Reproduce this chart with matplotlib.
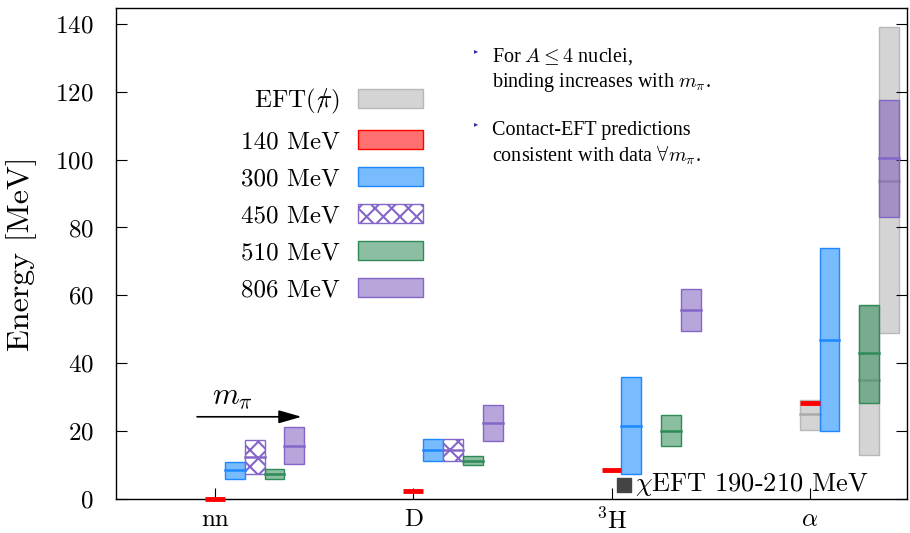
import numpy as np
import matplotlib.pyplot as plt
from matplotlib.patches import Patch

plt.rcParams['font.family'] = 'serif'
plt.rcParams['font.serif'] = ['cmr10']
plt.rcParams['mathtext.fontset'] = 'cm'
plt.rcParams['axes.unicode_minus'] = False
plt.rcParams['axes.formatter.use_mathtext'] = True
plt.rcParams['hatch.linewidth'] = 1.5

# data
nuclei = ['nn', 'D', r'$^3$H', r'$\alpha$']
expt = [0.0, 2.2, 8.5, 28.3]  # 140 MeV (physical point)

# (low, central, high) per nucleus, None where missing
b300 = [(6.0, 8.4, 10.8), (11.1, 14.4, 17.6), (7.4, 21.6, 35.8), (19.9, 46.9, 74.0)]
b450 = [(7.3, 12.3, 17.4), (11.1, 14.4, 17.6), None, None]
b510 = [(5.8, 7.3, 8.7), (9.9, 11.3, 12.7), (15.6, 20.1, 24.7), (28.4, 43.0, 57.2)]
b806 = [(10.2, 15.7, 21.1), (17.2, 22.5, 27.8), (49.4, 55.6, 61.9), (83.0, 100.6, 117.7)]

# pionless EFT for the alpha particle at 140, 510, 806 MeV
eft_slot = [0, 3, 4]
eft_alpha = [(20.4, 25.1, 29.2), (13.0, 34.9, 57.0), (49.0, 93.8, 139.0)]

chi_eft = 4.1  # chiral EFT marker near 3H

w = 0.1
x = np.arange(1, len(nuclei) + 1)

fig = plt.figure(figsize=(9.1, 5.33), dpi=100)
ax = fig.add_axes([0.1275, 0.064, 0.869, 0.921])


def band(xc, lo, mid, hi, fc, ec, hatch=None, z=2):
    ax.bar(xc, hi - lo, bottom=lo, width=w, color=fc, edgecolor=ec,
           linewidth=1.0, hatch=hatch, zorder=z)
    ax.plot([xc - w / 2, xc + w / 2], [mid, mid], color=ec, lw=1.8, zorder=z + 0.5)


gray_fc, gray_ec = '#d4d4d4', '#b8b8b8'
blue_fc, blue_ec = (0.12, 0.56, 1.0, 0.6), '#1e88ff'
green_fc, green_ec = (0.18, 0.55, 0.34, 0.55), '#2e8b57'
purp_fc, purp_ec = (0.45, 0.30, 0.72, 0.5), '#8466c8'

for s, (lo, mid, hi) in zip(eft_slot, eft_alpha):
    ax.bar(x[3] + s * w, hi - lo, bottom=lo, width=w, color=gray_fc,
           edgecolor=gray_ec, linewidth=1.0, zorder=1)
    ax.plot([x[3] + s * w - w / 2, x[3] + s * w + w / 2], [mid, mid],
            color='#aaaaaa', lw=1.8, zorder=1.5)

for i in range(len(nuclei)):
    if b300[i]:
        band(x[i] + w, *b300[i], blue_fc, blue_ec)
    if b450[i]:
        band(x[i] + 2 * w, *b450[i], 'white', purp_ec, hatch='xx')
    if b510[i]:
        band(x[i] + 3 * w, *b510[i], green_fc, green_ec)
    if b806[i]:
        band(x[i] + 4 * w, *b806[i], purp_fc, purp_ec)

ax.hlines(expt, x - w / 2, x + w / 2, color='red', lw=3.5, zorder=4, clip_on=False)

ax.plot([x[2] + 0.063], [chi_eft], marker='s', ms=10, color='#444444',
        ls='none', zorder=5, clip_on=False)
ax.text(x[2] + 0.12, chi_eft, r'$\chi$EFT 190-210 MeV', fontsize=19,
        va='center', ha='left')

# m_pi arrow
ax.annotate('', xy=(1.45, 24.2), xytext=(0.895, 24.2),
            arrowprops=dict(arrowstyle='-|>,head_length=1.4,head_width=0.4',
                            color='black', lw=1.2))
ax.text(1.09, 25.8, r'$m_\pi$', fontsize=22, ha='center', va='bottom')

ax.set_xlim(0.5, 4.49)
ax.set_ylim(0, 144.7)
ax.set_xticks(x)
ax.set_xticklabels(nuclei, fontsize=18)
ax.set_yticks(np.arange(0, 141, 20))
ax.tick_params(axis='y', labelsize=18, direction='in', right=True, length=8, pad=16)
ax.tick_params(axis='x', direction='in', length=8, pad=7)
ax.set_ylabel('Energy [MeV]', fontsize=23, labelpad=13)
for sp in ax.spines.values():
    sp.set_linewidth(1.0)

handles = [
    Patch(facecolor=gray_fc, edgecolor=gray_ec),
    Patch(facecolor='#ff7070', edgecolor='red'),
    Patch(facecolor=blue_fc, edgecolor=blue_ec),
    Patch(facecolor='white', edgecolor=purp_ec, hatch='xx'),
    Patch(facecolor=green_fc, edgecolor=green_ec),
    Patch(facecolor=purp_fc, edgecolor=purp_ec),
]
labels = [r'EFT($/\!\!\!\pi$)', '140 MeV', '300 MeV', '450 MeV', '510 MeV', '806 MeV']
leg = ax.legend(handles, labels, loc='upper left', bbox_to_anchor=(0.13, 0.885),
                frameon=False, markerfirst=False, fontsize=18, handlelength=2.6,
                handleheight=0.8, labelspacing=0.55, handletextpad=0.7)

notes = [(r'For $A \leq 4$ nuclei,', r'binding increases with $m_\pi$.', 0.894),
         (r'Contact-EFT predictions', r'consistent with data $\forall m_\pi$.', 0.756)]
for l1, l2, yy in notes:
    fig.text(0.521, yy + 0.012, '\u25b8', color='#3030a0', fontsize=6,
             family='DejaVu Sans', va='center')
    fig.text(0.541, yy, l1, fontsize=14.5, family='Liberation Serif', va='center')
    fig.text(0.541, yy - 0.049, l2, fontsize=14.5, family='Liberation Serif', va='center')

fig.savefig('out.png', dpi=100)
